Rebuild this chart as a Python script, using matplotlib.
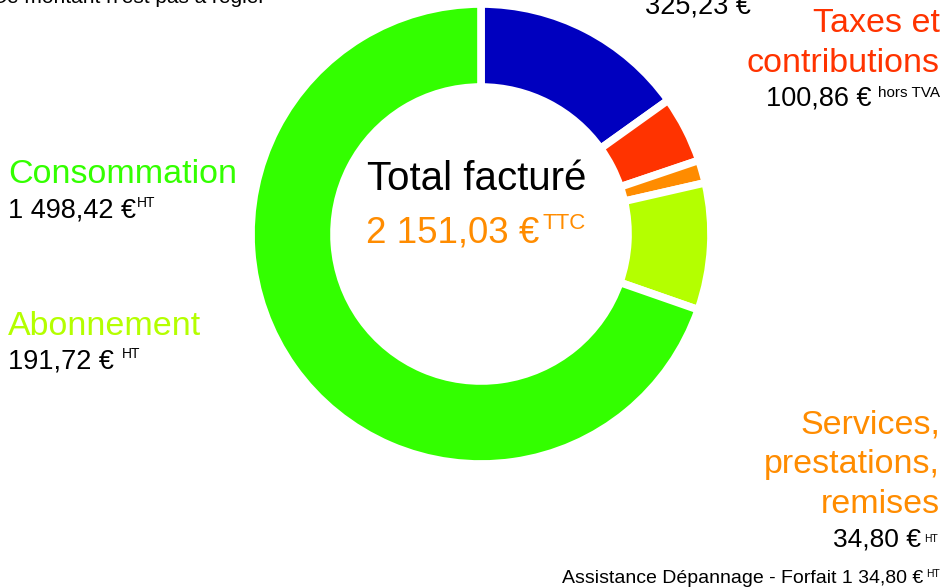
import matplotlib.pyplot as plt

plt.rcParams['font.family'] = ['Liberation Sans', 'DejaVu Sans']

# Bill breakdown (clockwise from the top)
categories = ['TVA', 'Taxes et contributions', 'Services, prestations, remises',
              'Abonnement', 'Consommation']
values = [325.23, 100.86, 34.80, 191.72, 1498.42]
colors = ['#0000BF', '#FF3300', '#FF8C00', '#B4FF00', '#33FF00']
total = 2151.03
service_items = ['Assistance Dépannage - Forfait 1']
service_amounts = [34.80]
note = "Ce montant n'est pas à régler"


def euro(v):
    # french style number: 1 498,42
    return f"{v:,.2f}".replace(',', ' ').replace('.', ',') + ' €'


W, H = 945, 587
fig = plt.figure(figsize=(W / 100, H / 100), dpi=100)
ax = fig.add_axes([0, 0, 1, 1])

ax.pie(values, colors=colors, startangle=90, counterclock=False,
       center=(481, H - 234), radius=230, frame=True,
       wedgeprops=dict(width=83, edgecolor='white', linewidth=5.5))
ax.set_xlim(0, W)
ax.set_ylim(0, H)
ax.axis('off')


def Y(y):
    return H - y


def text_sup_left(x, y, main, sup, sup_y, size, sup_size, gap, color='black'):
    t = ax.text(x, Y(y), main, color=color, fontsize=size, ha='left', va='baseline')
    ax.annotate(sup, xy=(1, Y(sup_y)), xycoords=(t, 'data'), xytext=(gap * 0.72, 0),
                textcoords='offset points', color=color, fontsize=sup_size,
                ha='left', va='baseline')


def text_sup_right(x, y, main, sup, sup_y, size, sup_size, gap, color='black'):
    s = ax.text(x, Y(sup_y), sup, color=color, fontsize=sup_size, ha='right', va='baseline')
    ax.annotate(main, xy=(0, Y(y)), xycoords=(s, 'data'), xytext=(-gap * 0.72, 0),
                textcoords='offset points', color=color, fontsize=size,
                ha='right', va='baseline')


# partially visible texts at the top
ax.text(265, Y(3), note, fontsize=15, ha='right', va='baseline')
ax.text(645, Y(13), euro(values[0]), fontsize=19.5, ha='left', va='baseline')

# left side
ax.text(8, Y(183), categories[4], color=colors[4], fontsize=24.5, va='baseline')
text_sup_left(8, 217, euro(values[4]), 'HT', 207, 19.5, 10, 1)
ax.text(8, Y(335), categories[3], color=colors[3], fontsize=24.5, va='baseline')
text_sup_left(8, 368, euro(values[3]), 'HT', 358, 19.5, 10, 8)

# center
ax.text(476.5, Y(190), 'Total facturé', fontsize=29, ha='center', va='baseline')
text_sup_left(366, 242, euro(total), 'TTC', 229, 26.5, 16, 3, color='#FF8C00')

# right side
for txt, yb in zip(['Taxes et', 'contributions'], [32, 72]):
    ax.text(940, Y(yb), txt, color=colors[1], fontsize=24.5, ha='right', va='baseline')
text_sup_right(940, 105, euro(values[1]), 'hors TVA', 97, 19.5, 11, 6)

for txt, yb in zip(['Services,', 'prestations,', 'remises'], [433, 473, 513]):
    ax.text(940, Y(yb), txt, color=colors[2], fontsize=24.5, ha='right', va='baseline')
text_sup_right(938, 547, euro(values[2]), 'HT', 542, 19, 7.5, 3)
text_sup_right(940, 583, service_items[0] + ' ' + euro(service_amounts[0]), 'HT', 577,
               14, 7.5, 3)

fig.savefig('out.png', dpi=100)
